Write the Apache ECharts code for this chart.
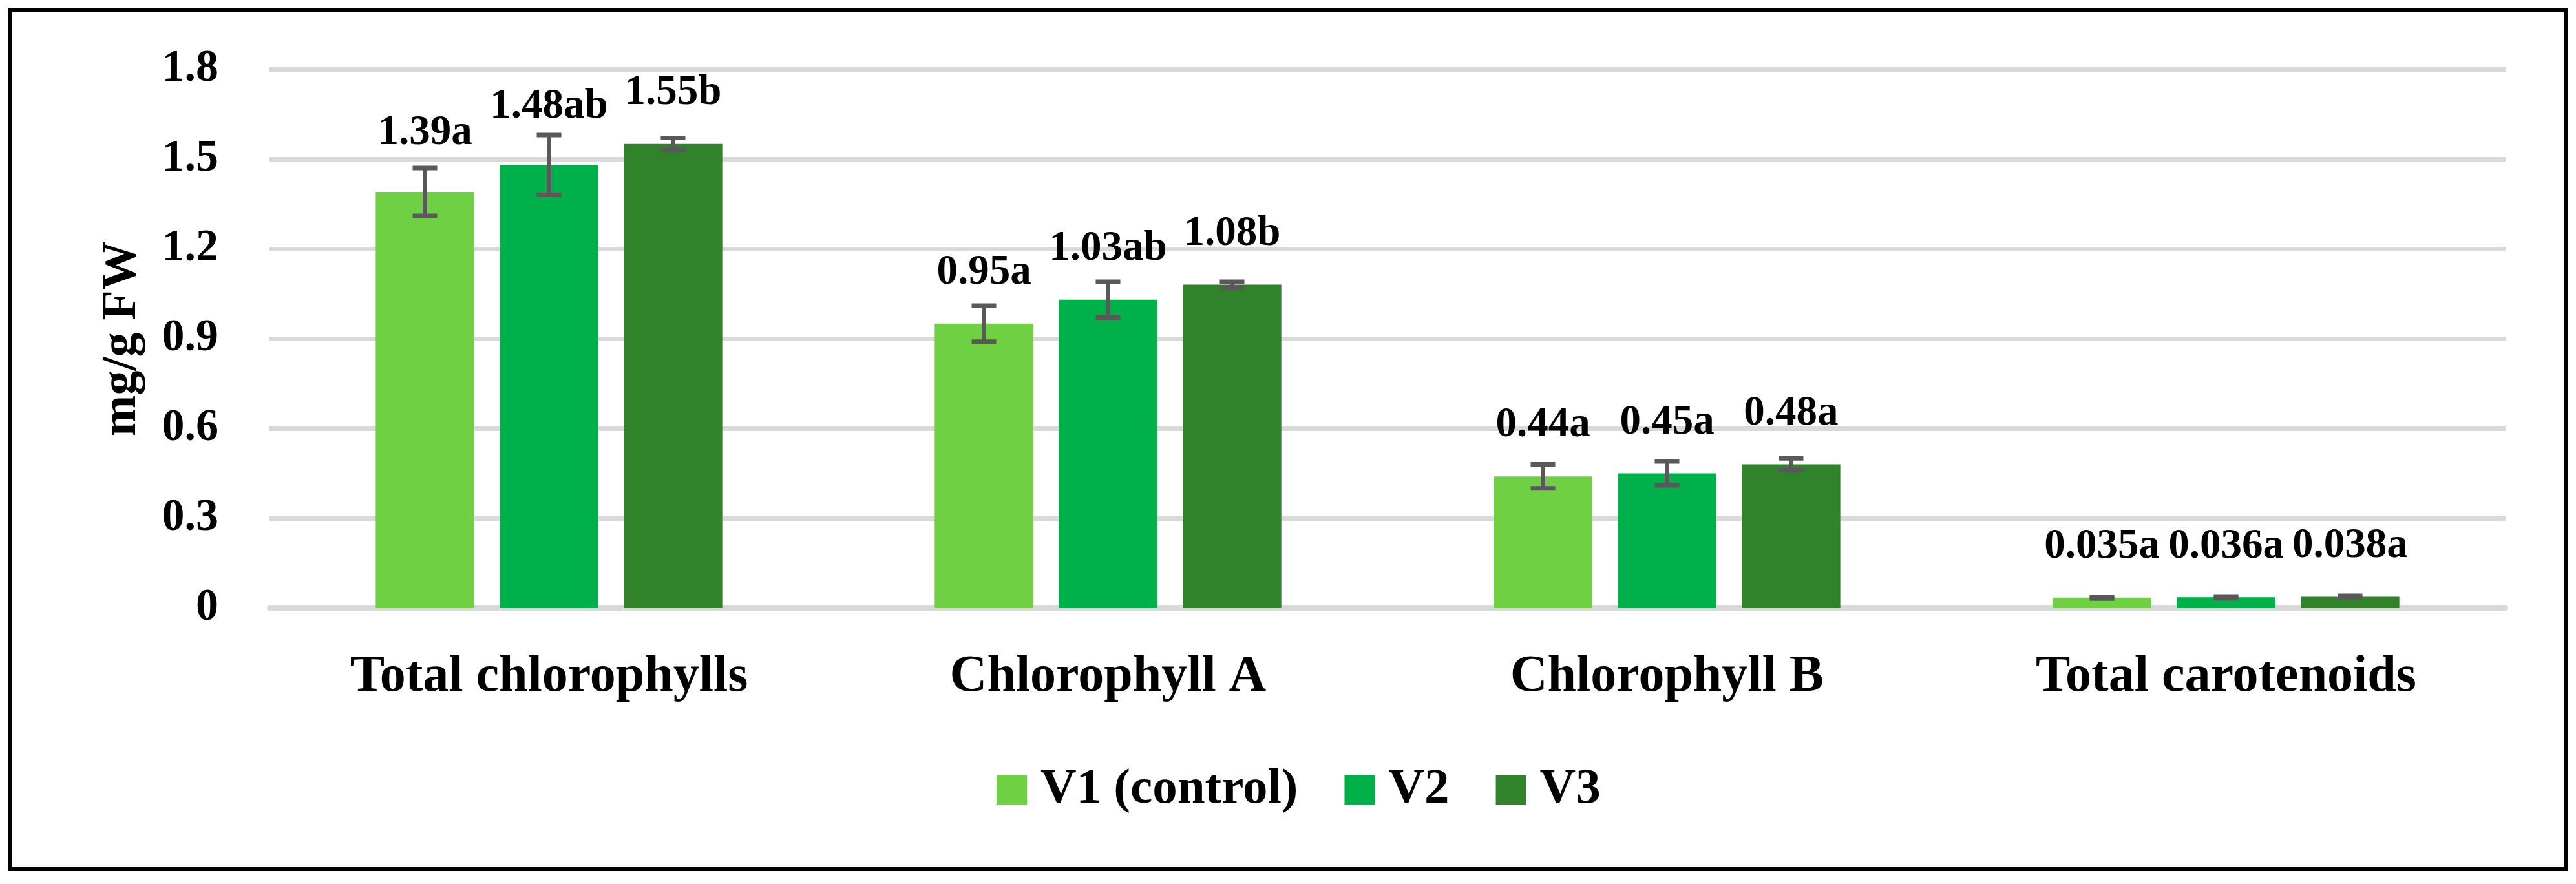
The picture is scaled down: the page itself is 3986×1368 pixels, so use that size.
<!DOCTYPE html>
<html>
<head>
<meta charset="utf-8">
<script src="https://cdn.jsdelivr.net/npm/echarts@6/dist/echarts.min.js"></script>
<style>
html,body{margin:0;padding:0;background:#fff;}
#chart{width:3986px;height:1368px;}
</style>
</head>
<body>
<div id="chart"></div>
<script>
const categories = ['Total chlorophylls', 'Chlorophyll A', 'Chlorophyll B', 'Total carotenoids'];
const seriesNames = ['V1 (control)', 'V2', 'V3'];
const v1Values = [1.39, 0.95, 0.44, 0.035];
const v2Values = [1.48, 1.03, 0.45, 0.036];
const v3Values = [1.55, 1.08, 0.48, 0.038];
const v1Errors = [0.08, 0.06, 0.04, 0.003];
const v2Errors = [0.10, 0.06, 0.04, 0.003];
const v3Errors = [0.02, 0.01, 0.02, 0.003];
const v1Letters = ['a', 'a', 'a', 'a'];
const v2Letters = ['ab', 'ab', 'a', 'a'];
const v3Letters = ['b', 'b', 'a', 'a'];
const yTicks = ['0', '0.3', '0.6', '0.9', '1.2', '1.5', '1.8'];
const colors = ['#70D044', '#00B04A', '#31832B'];

const allValues = [v1Values, v2Values, v3Values];
const allErrors = [v1Errors, v2Errors, v3Errors];
const allLetters = [v1Letters, v2Letters, v3Letters];

// style: extra lift (px) for labels that sit above tall error bars
const LABEL_BASE_DIST = 46;
const LABEL_LIFT = { '0-0': 12, '1-0': 12 };

const FONT = 'Liberation Serif';
const CAT_GAP = 0.38, BAR_GAP = 0.26;

const chart = echarts.init(document.getElementById('chart'));

const barSeries = seriesNames.map((name, s) => ({
  name: name,
  type: 'bar',
  data: allValues[s].map((v, i) => {
    const lift = LABEL_LIFT[s + '-' + i] || 0;
    return lift ? { value: v, label: { distance: LABEL_BASE_DIST + lift } } : v;
  }),
  barCategoryGap: (CAT_GAP * 100) + '%',
  barGap: (BAR_GAP * 100) + '%',
  itemStyle: { color: colors[s] },
  z: 2,
  label: {
    show: true,
    position: 'top',
    distance: LABEL_BASE_DIST,
    fontFamily: FONT,
    fontWeight: 'bold',
    fontSize: 65,
    color: '#000',
    formatter: p => String(allValues[s][p.dataIndex]) + allLetters[s][p.dataIndex]
  }
}));

const errSeries = seriesNames.map((name, s) => ({
  type: 'custom',
  name: name + ' err',
  z: 5,
  silent: true,
  data: allValues[s].map((v, i) => [i, v, allErrors[s][i]]),
  renderItem: function (params, api) {
    const ci = api.value(0), v = api.value(1), e = api.value(2);
    const catW = api.size([1, 0])[0];
    const bw = catW * (1 - CAT_GAP) / (3 + 2 * BAR_GAP);
    const gap = bw * BAR_GAP;
    const c = api.coord([ci, v]);
    const x = c[0] + (s - 1) * (bw + gap);
    const yHi = api.coord([ci, v + e])[1];
    const yLo = api.coord([ci, v - e])[1];
    const hw = 19;
    const st = { stroke: '#595959', lineWidth: 7 };
    return {
      type: 'group',
      children: [
        { type: 'line', shape: { x1: x, y1: yHi, x2: x, y2: yLo }, style: st },
        { type: 'line', shape: { x1: x - hw, y1: yHi, x2: x + hw, y2: yHi }, style: st },
        { type: 'line', shape: { x1: x - hw, y1: yLo, x2: x + hw, y2: yLo }, style: st }
      ]
    };
  }
}));

chart.setOption({
  animation: false,
  backgroundColor: '#fff',
  textStyle: { fontFamily: FONT },
  grid: { left: 417, right: 109, top: 107, bottom: 427, containLabel: false },
  legend: {
    data: seriesNames,
    left: 1542,
    top: 1184,
    padding: 0,
    icon: 'rect',
    itemWidth: 47,
    itemHeight: 45,
    itemGap: 72,
    textStyle: {
      fontFamily: FONT,
      fontWeight: 'bold',
      fontSize: 77,
      color: '#000',
      padding: [0, 0, 0, 16]
    }
  },
  xAxis: {
    type: 'category',
    data: categories,
    axisLine: { lineStyle: { color: '#D9D9D9', width: 8 } },
    axisTick: { show: false },
    axisLabel: {
      margin: 67,
      fontFamily: FONT,
      fontWeight: 'bold',
      fontSize: 80,
      color: '#000'
    }
  },
  yAxis: {
    type: 'value',
    min: 0,
    max: 1.8,
    interval: 0.3,
    name: 'mg/g FW',
    nameLocation: 'middle',
    nameGap: 190,
    nameTextStyle: {
      fontFamily: FONT,
      fontWeight: 'bold',
      fontSize: 76,
      color: '#000'
    },
    axisLine: { show: false },
    axisTick: { show: false },
    splitLine: { lineStyle: { color: '#D9D9D9', width: 7 } },
    axisLabel: {
      margin: 79,
      fontFamily: FONT,
      fontWeight: 'bold',
      fontSize: 70,
      color: '#000',
      formatter: (val, idx) => yTicks[idx]
    }
  },
  graphic: [{
    type: 'rect',
    shape: { x: 15, y: 16, width: 3955, height: 1329 },
    style: { fill: 'none', stroke: '#000', lineWidth: 6 },
    silent: true,
    z: 100
  }],
  series: barSeries.concat(errSeries)
});
</script>
</body>
</html>
